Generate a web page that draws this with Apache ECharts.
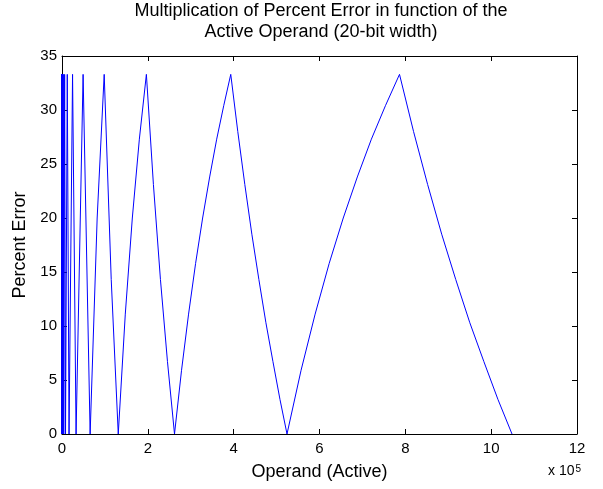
<!DOCTYPE html>
<html><head><meta charset="utf-8">
<script src="https://cdn.jsdelivr.net/npm/echarts@6/dist/echarts.min.js"></script>
<style>html,body{margin:0;padding:0;background:#fff}#c{width:603px;height:489px}</style>
</head><body><div id="c"></div>
<script>
var titleLines = ['Multiplication of Percent Error in function of the', 'Active Operand (20-bit width)'];
var xTicks = [0, 200000, 400000, 600000, 800000, 1000000, 1200000];
var yTicks = [0, 5, 10, 15, 20, 25, 30, 35];
var operand = [16,24,32,48,64,96,128,192,256,384,512,768,1024,1536,2048,3072,4096,6144,8192,12288,16384,24576,32768,49152,65536,81920,98304,114688,131072,147456,163840,180224,196608,212992,229376,245760,262144,278528,294912,311296,327680,344064,360448,376832,393216,409600,425984,442368,458752,475136,491520,507904,524288,557056,589824,622592,655360,688128,720896,753664,786432,819200,851968,884736,917504,950272,983040,1015808,1048576];
var percentError = [0,33.3,0,33.3,0,33.3,0,33.3,0,33.3,0,33.3,0,33.3,0,33.3,0,33.3,0,33.3,0,33.3,0,33.3,0,20.0,33.3,14.3,0,11.1,20.0,27.3,33.3,23.1,14.3,6.7,0,5.9,11.1,15.8,20.0,23.8,27.3,30.4,33.3,28.0,23.1,18.5,14.3,10.3,6.7,3.2,0,5.9,11.1,15.8,20.0,23.8,27.3,30.4,33.3,28.0,23.1,18.5,14.3,10.3,6.7,3.2,0];

var pts = operand.map(function(x, i){ return [x, percentError[i]]; });
var font = 'Liberation Sans, Arial, Helvetica, sans-serif';
var chart = echarts.init(document.getElementById('c'));
function ax(extra){
  return Object.assign({
    axisLine: {show: true, onZero: false, lineStyle: {color: '#000', width: 1}},
    axisTick: {show: true, inside: true, length: 5, lineStyle: {color: '#000'}},
    splitLine: {show: false}
  }, extra);
}
chart.setOption({
  animation: false,
  backgroundColor: '#fff',
  grid: {left: 62, right: 26, top: 56, bottom: 55},
  graphic: [
    {type: 'text', x: 321, y: 11, style: {text: titleLines[0], font: '18px ' + font, fill: '#000', textAlign: 'center', textVerticalAlign: 'middle'}},
    {type: 'text', x: 321, y: 32, style: {text: titleLines[1], font: '18px ' + font, fill: '#000', textAlign: 'center', textVerticalAlign: 'middle'}},
    {type: 'text', x: 548, y: 464, style: {text: 'x 10{s|5}', rich: {s: {fontSize: 10, fontFamily: font, verticalAlign: 'top', lineHeight: 8, padding: [0,0,8,1]}}, font: '14px ' + font, fill: '#000'}}
  ],
  xAxis: [
    ax({type: 'value', min: 0, max: 1200000, interval: 200000, position: 'bottom',
      name: 'Operand (Active)', nameLocation: 'middle', nameGap: 29,
      nameTextStyle: {fontSize: 18, fontFamily: font, color: '#000'},
      axisLabel: {fontSize: 15, fontFamily: font, color: '#000', margin: 7, formatter: function(v){ return String(v/100000); }}}),
    ax({type: 'value', min: 0, max: 1200000, interval: 200000, position: 'top', axisLabel: {show: false}})
  ],
  yAxis: [
    ax({type: 'value', min: 0, max: 35, interval: 5, position: 'left',
      name: 'Percent Error', nameLocation: 'middle', nameGap: 33,
      nameTextStyle: {fontSize: 18, fontFamily: font, color: '#000'},
      axisLabel: {fontSize: 15, fontFamily: font, color: '#000', margin: 5}}),
    ax({type: 'value', min: 0, max: 35, interval: 5, position: 'right', axisLabel: {show: false}})
  ],
  series: [{type: 'line', data: pts, showSymbol: false, symbol: 'none', lineStyle: {color: '#0000ff', width: 1}, xAxisIndex: 0, yAxisIndex: 0}]
});
</script></body></html>
